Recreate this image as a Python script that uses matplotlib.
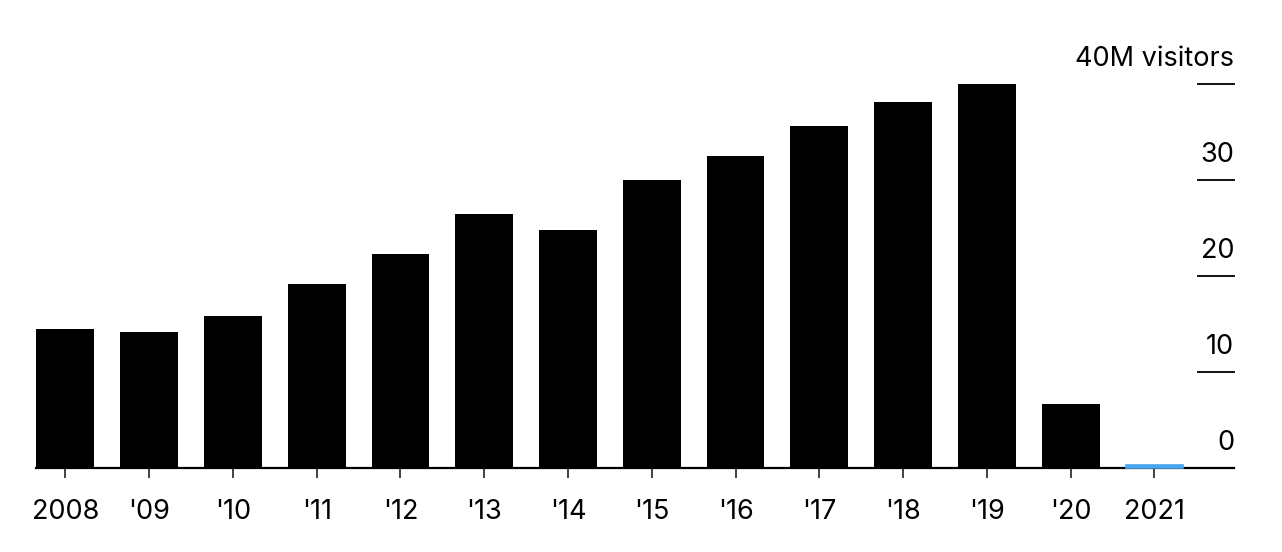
#==============================================================================
#======================== Visitors per year - bar chart =======================
#==============================================================================
import numpy as np
import matplotlib.pyplot as plt

# ============================== Space for Data ===============================
years = ['2008', "'09", "'10", "'11", "'12", "'13", "'14",
         "'15", "'16", "'17", "'18", "'19", "'20", '2021']
visitors = [14.5, 14.15, 15.8, 19.15, 22.3, 26.45, 24.8,
            30.0, 32.5, 35.6, 38.15, 40.0, 6.65, 0.35]     # millions
y_ticks = [10, 20, 30, 40]
y_labels = ['10', '20', '30', '40M visitors']

# ============================== Space for Style ==============================
plt.rcParams['font.family'] = ['Inter', 'DejaVu Sans']
fs = 19.5
black = '#000000'
blue = '#4aa5f0'

colors = [black]*(len(years) - 1) + [blue]

# ============================== Space for Plots ==============================
fig = plt.figure(figsize=(12.82, 5.52), dpi=100)
ax = fig.add_axes([0.02808, 0.1522, 0.93448, 0.6951])

x = np.arange(len(years))
bars = ax.bar(x, visitors, width=0.69, color=colors, clip_on=False, zorder=2)
bars[-1].set_zorder(4)                      # 2021 sits over the baseline
bars[-1].set_edgecolor(blue)
bars[-1].set_linewidth(1.2)

ax.set_xlim(-0.35, 13.95)
ax.set_ylim(0, 40)

for s in ['top', 'right', 'left']:
    ax.spines[s].set_visible(False)
ax.spines['bottom'].set_linewidth(1.6)
ax.spines['bottom'].set_zorder(3)

ax.set_xticks(x)
ax.set_xticklabels(years, fontsize=fs)
ax.tick_params(axis='x', direction='out', length=7, width=1.2,
               color='#222222', pad=15)
ax.set_yticks([])

# short tick marks on the right with labels above them
tr = ax.get_yaxis_transform()
for v, lab in zip(y_ticks, y_labels):
    ax.plot([0.97, 1.0], [v, v], color='#111111', lw=1.4,
            transform=tr, clip_on=False)
    ax.annotate(lab, xy=(1.0, v), xycoords=tr, xytext=(0, 13),
                textcoords='offset points', ha='right', va='baseline',
                fontsize=fs)
ax.annotate('0', xy=(1.0, 0), xycoords=tr, xytext=(0, 13),
            textcoords='offset points', ha='right', va='baseline',
            fontsize=fs)

fig.savefig('out.png', dpi=100)
